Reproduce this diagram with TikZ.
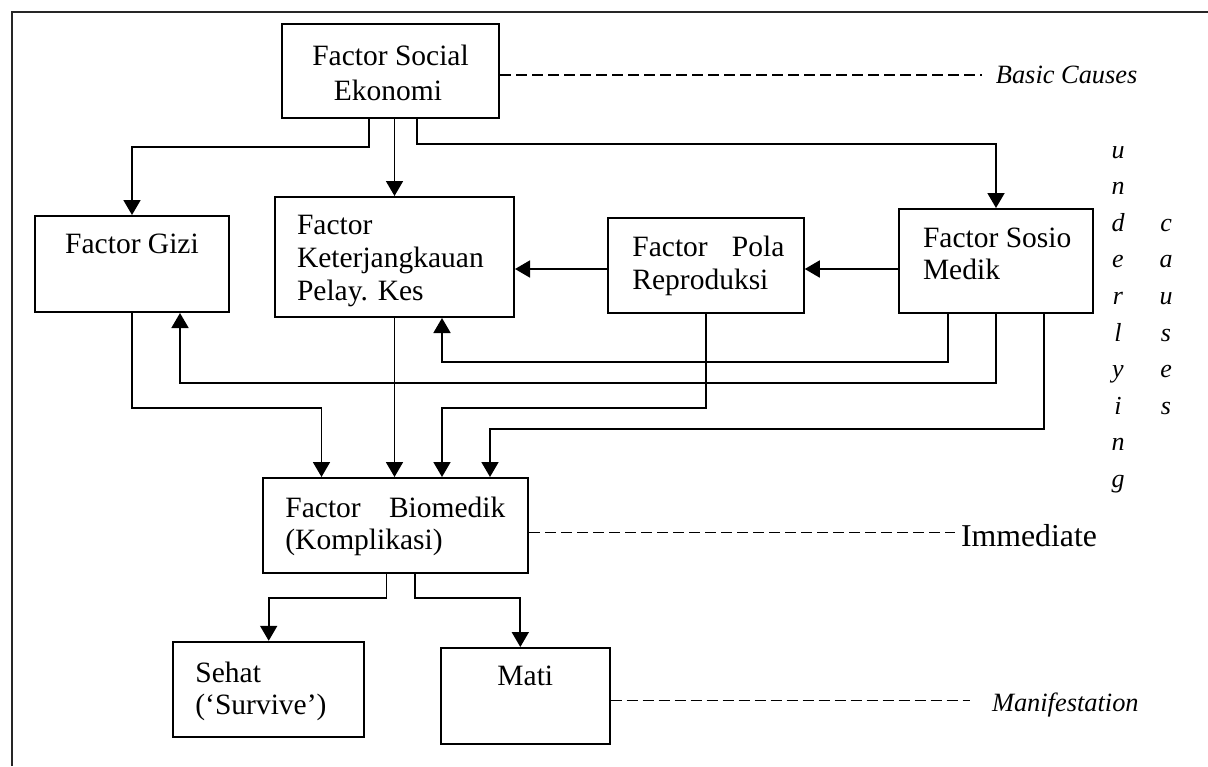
\documentclass[tikz,border=0pt]{standalone}
\usepackage{fontspec}
\setmainfont{Liberation Serif}
\usetikzlibrary{arrows.meta,calc}
\begin{document}
\begin{tikzpicture}[x=0.5pt,y=-0.5pt,
  box/.style 2 args={draw,line width=1pt,rectangle,inner sep=0pt,minimum width=#1,minimum height=#2},
  txt/.style={inner sep=0pt,font=\fontsize{14.75}{16.5}\selectfont},
  tag/.style={inner ysep=0pt,font=\fontsize{13.2}{15}\selectfont\itshape},
  vlet/.style={inner sep=0pt,anchor=base,font=\fontsize{13}{15}\selectfont\itshape},
  arr/.style={line width=0.9pt,-{Triangle[width=8.5pt,length=7.5pt]}},
  dsh/.style={line width=0.6pt,dash pattern=on 5.5pt off 2.5pt},
  frame/.style={line width=1pt,black!85}]
\useasboundingbox (0,0) rectangle (1208,766);

% outer frame (left and top edges)
\draw[frame] (11.5,766) -- (11.5,12) -- (1208,12);

% boxes
\node[box={108.5pt}{47pt}]   (soc)   at (390.5,71)   {};
\node[box={96.75pt}{48pt}]   (gizi)  at (132,264)    {};
\node[box={119.5pt}{60pt}]   (ket)   at (394.5,257)  {};
\node[box={97.75pt}{47.5pt}] (pola)  at (706,265.5)  {};
\node[box={97pt}{52pt}]      (sosio) at (996,261)    {};
\node[box={132.5pt}{47.5pt}] (bio)   at (395.5,525.5){};
\node[box={95.5pt}{47.5pt}]  (sehat) at (268.7,689.3){};
\node[box={84.35pt}{48pt}]   (mati)  at (525.3,696)  {};

% box texts
\node[txt,anchor=base] (soc1) at (390.5,65) {Factor Social};
\node[txt,anchor=base] (soc2) at (388,100) {Ekonomi};
\node[txt,anchor=base] (gizi1) at (132,253) {Factor Gizi};
\node[txt,anchor=base west] (ket1) at (296.6,234) {Factor};
\node[txt,anchor=base west] (ket2) at (296.6,267) {Keterjangkauan};
\node[txt,anchor=base west] (ket3) at (296.6,300) {Pelay. Kes};
\node[txt,anchor=base west] (pola1) at (632,256) {\makebox[76pt][s]{Factor Pola}};
\node[txt,anchor=base west] (pola2) at (632,289) {Reproduksi};
\node[txt,anchor=base west] (sosio1) at (922.6,247) {Factor Sosio};
\node[txt,anchor=base west] (sosio2) at (922.6,279) {Medik};
\node[txt,anchor=base west] (bio1) at (285,517) {\makebox[110pt][s]{Factor Biomedik}};
\node[txt,anchor=base west] (bio2) at (285,549) {(Komplikasi)};
\node[txt,anchor=base west] (sehat1) at (195,682) {Sehat};
\node[txt,anchor=base west] (sehat2) at (195,714) {(`Survive')};
\node[txt,anchor=base] (mati1) at (525.3,685) {Mati};

% level labels
\node[tag,inner xsep=6.75pt,anchor=base west] (basic) at (982,83) {Basic Causes};
\node[txt,inner xsep=2.9pt,anchor=base west,font=\fontsize{15.9}{17}\selectfont] (imm) at (954.8,546) {Immediate};
\node[tag,inner xsep=10.8pt,anchor=base west] (manif) at (970,711.7) {Manifestation};

% vertical "underlying causes"
\foreach \ch [count=\i from 0] in {u,n,d,e,r,l,y,i,n,g}
  \node[vlet] (ul\i) at (1118,{158+36.6*\i}) {\ch};
\foreach \ch [count=\i from 2] in {c,a,u,s,e,s}
  \node[vlet] (cs\i) at (1166,{158+36.6*\i}) {\ch};

% dashed leaders
\draw[dsh] ($(soc.east)+(0,4)$) coordinate (d1) -- (d1 -| basic.west);
\draw[dsh] ($(bio.east)+(0,7.2)$) coordinate (d2) -- (d2 -| imm.west);
\draw[dsh] ($(mati.east)+(0,4.7)$) coordinate (d3) -- (d3 -| manif.west);

% arrows from social-economic factor
\draw[arr] ($(soc.south)+(-21.5,0)$) -- ++(0,28) -| (gizi.north);
\draw[arr] (ket.north |- soc.south) -- (ket.north);
\draw[arr] ($(soc.south)+(26.5,0)$) -- ++(0,25) -| (sosio.north);

% horizontal chain
\draw[arr] ($(sosio.west)+(0,8)$) coordinate (s1) -- (s1 -| pola.east);
\draw[arr] ($(pola.west)+(0,3.5)$) coordinate (p1) -- (p1 -| ket.east);

% feedback from socio-medical factor
\draw[arr] ($(sosio.south)+(-48,0)$) -- ++(0,48) -| ($(ket.south)+(47.5,0)$);
\draw[arr] (sosio.south) -- ++(0,69) -| ($(gizi.south)+(48,0)$);

% into biomedical factor
\draw[arr] (gizi.south) -- ++(0,94.7) -| ($(bio.north)+(-74,0)$);
\draw[arr] (ket.south) -- (ket.south |- bio.north);
\draw[arr] (pola.south) -- ++(0,94) -| ($(bio.north)+(46.5,0)$);
\draw[arr] ($(sosio.south)+(48,0)$) -- ++(0,115) -| ($(bio.north)+(94.5,0)$);

% outcomes
\draw[arr] ($(bio.south)+(-9,0)$) -- ++(0,24) -| (sehat.north);
\draw[arr] ($(bio.south)+(19.5,0)$) -- ++(0,24) -| ($(mati.north)+(-5,0)$);
\end{tikzpicture}
\end{document}
